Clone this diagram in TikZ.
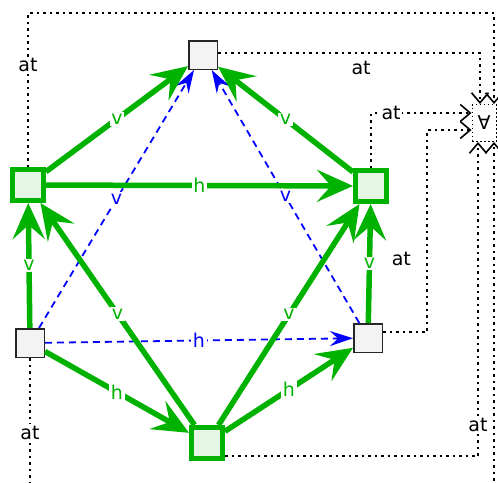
\documentclass[tikz,border=0pt]{standalone}
\usepackage{fontspec}
\setmainfont{DejaVu Sans}
\usetikzlibrary{arrows.meta,calc}
\definecolor{grn}{RGB}{0,178,0}
\definecolor{grnfill}{RGB}{229,246,229}
\definecolor{gryfill}{RGB}{243,243,243}
\definecolor{blu}{RGB}{0,0,255}
\begin{document}
\begin{tikzpicture}[x=1pt,y=-1pt, font=\fontsize{19}{22}\selectfont,
 graynode/.style={draw=black!85, fill=gryfill, line width=1.5pt, minimum size=28.5pt, inner sep=0pt},
 greennode/.style={draw=grn, fill=grnfill, line width=5pt, minimum size=31pt, inner sep=0pt},
 allnode/.style={draw=black, dash pattern=on 1.5pt off 2.5pt, line width=1pt, minimum width=24pt, minimum height=37pt, inner sep=0pt},
 gedge/.style={draw=grn, line width=5.5pt, -{Stealth[length=36pt,width=32pt,inset=14pt]}},
 bedge/.style={draw=blu, line width=1.8pt, dash pattern=on 7pt off 5pt, -{Stealth[length=23pt,width=15pt,inset=8pt]}},
 dedge/.style={draw=black, line width=1.6pt, dash pattern=on 2.5pt off 4pt, -{Straight Barb[length=10pt,width=17pt]}},
 glabel/.style={fill=white, text=grn, inner sep=1.5pt},
 blabel/.style={fill=white, text=blu, inner sep=1.5pt},
 dlabel/.style={fill=white, text=black, inner sep=1.5pt},
]
\useasboundingbox (0,0) rectangle (498,482);
\clip (0,0) rectangle (498,482);

\node[greennode] (L1) at (28,185) {};
\node[greennode] (R1) at (371,186) {};
\node[greennode] (B) at (207,443) {};
\node[graynode] (T) at (203,55) {};
\node[graynode] (L2) at (30,343) {};
\node[graynode] (R2) at (368,338) {};
\node[allnode] (A) at (484,123) {∀};

% dotted "at" connectors
\draw[dedge] ($(T.east)+(0,-2)$) -| node[pos=0.273, below=4pt, text=black]{at} ($(A.north)+(-4,0)$);
\draw[dedge] (R1.north) |- node[pos=0.6, dlabel]{at} ($(A.west)+(0,-10)$);
\draw[dedge] ($(R2.east)+(0,-6)$) -- ++(44,0) |- node[pos=0.18, left=12pt, text=black]{at} ($(A.west)+(0,7)$);
\draw[dedge] ($(B.east)+(0,13)$) -| node[pos=0.55, dlabel]{at} ($(A.south)+(-6,0)$);
\draw[dedge] (L1.north) |- node[pos=0.33, dlabel]{at} ($(A.north)+(10,-91)$) -- ($(A.north)+(10,0)$);
\draw[dedge] (L2.south) |- node[pos=0.27, dlabel]{at} ($(A.south)+(10,354)$) -- ($(A.south)+(10,0)$);

% blue dashed connectors
\draw[bedge] (L2) -- node[blabel]{v} (T);
\draw[bedge] (R2) -- node[blabel]{v} (T);
\draw[bedge] (L2) -- node[blabel]{h} (R2);

% green connectors
\draw[gedge] (L1) -- node[glabel]{v} (T);
\draw[gedge] (R1) -- node[glabel]{v} (T);
\draw[gedge] (L1) -- node[glabel]{h} (R1);
\draw[gedge] (L2) -- node[glabel]{v} (L1);
\draw[gedge] (B) -- node[glabel]{v} (L1);
\draw[gedge] (R2) -- node[glabel]{v} (R1);
\draw[gedge] (B) -- node[glabel]{v} (R1);
\draw[gedge] (L2) -- node[glabel]{h} (B);
\draw[gedge] (B) -- node[glabel]{h} (R2);
\end{tikzpicture}
\end{document}
